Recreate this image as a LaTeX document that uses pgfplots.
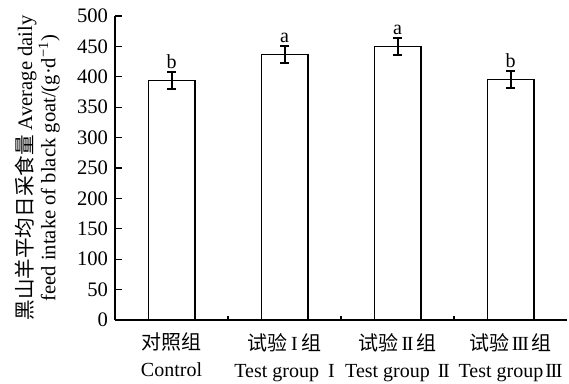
\documentclass[border=0pt]{standalone}
\usepackage{pgfplots}
\pgfplotsset{compat=1.18}
\usepackage{fontspec}
\setmainfont{Liberation Serif}
\newfontfamily\cjk{Noto Sans CJK SC}
\newcommand{\rI}{\hspace{0.2em}I\hspace{0.2em}}
\newcommand{\rII}{\hspace{0.15em}I\kern-0.7pt I\hspace{0.15em}}
\newcommand{\rIII}{\hspace{0.1em}I\kern-0.7pt I\kern-0.7pt I\hspace{0.1em}}
\begin{document}
\fontsize{10}{10.5}\selectfont
\begin{tikzpicture}
\begin{axis}[
  scale only axis, width=226pt, height=152pt,
  xmin=-0.5, xmax=3.5, ymin=0, ymax=500,
  axis x line=bottom, axis y line=left,
  axis line style={-, line width=0.7pt},
  every tick/.style={black, line width=0.6pt},
  tick align=inside,
  ytick={0,50,...,500},
  major tick length=3.5pt,
  minor tick length=2pt,
  xtick={0,1,2,3},
  major x tick style={draw=none},
  minor xtick={0.5,1.5,2.5},
  xticklabels={{{\cjk 对照组}\\Control},{{\cjk 试验}\rI{\cjk 组}\\Test group \rI},{{\cjk 试验}\rII{\cjk 组}\\Test group \rII},{{\cjk 试验}\rIII{\cjk 组}\\Test group\rIII}},
  xticklabel style={align=center, font=\fontsize{10}{13.5}\selectfont, yshift=-3pt},
  /pgf/number format/assume math mode=true,
  yticklabel style={font=\fontsize{10.3}{10}\selectfont},
  ylabel={{\cjk 黑山羊平均日采食量} Average daily\\feed intake of black goat/(g·d\textsuperscript{−1})},
  ylabel style={at={(axis description cs:-0.172,0.5)}, anchor=center, align=center, font=\fontsize{10.3}{10.3}\selectfont},
  clip=false,
]
\addplot[ybar, bar width=23.3pt, draw=black, fill=white, line width=0.7pt,
  error bars/.cd, y dir=both, y explicit,
  error bar style={line width=1pt, black},
  error mark options={rotate=90, mark size=2.3pt, line width=1pt, black}]
  coordinates {(0,394) +- (0,14) (1,437) +- (0,14) (2,450) +- (0,14) (3,396) +- (0,14)};
\addplot[draw=none, mark=none, nodes near coords, point meta=explicit symbolic,
  every node near coord/.style={anchor=south, inner sep=1.5pt, font=\fontsize{10}{10}\selectfont}]
  coordinates {(0,408)[b] (1,451)[a] (2,464)[a] (3,410)[b]};
\coordinate (ll) at (rel axis cs:0,0);
\coordinate (ur) at (rel axis cs:1,1);
\end{axis}
\pgfresetboundingbox
\path ([xshift=-57.5pt,yshift=-31.5pt]ll) rectangle ([xshift=1pt,yshift=8pt]ur);
\end{tikzpicture}
\end{document}
